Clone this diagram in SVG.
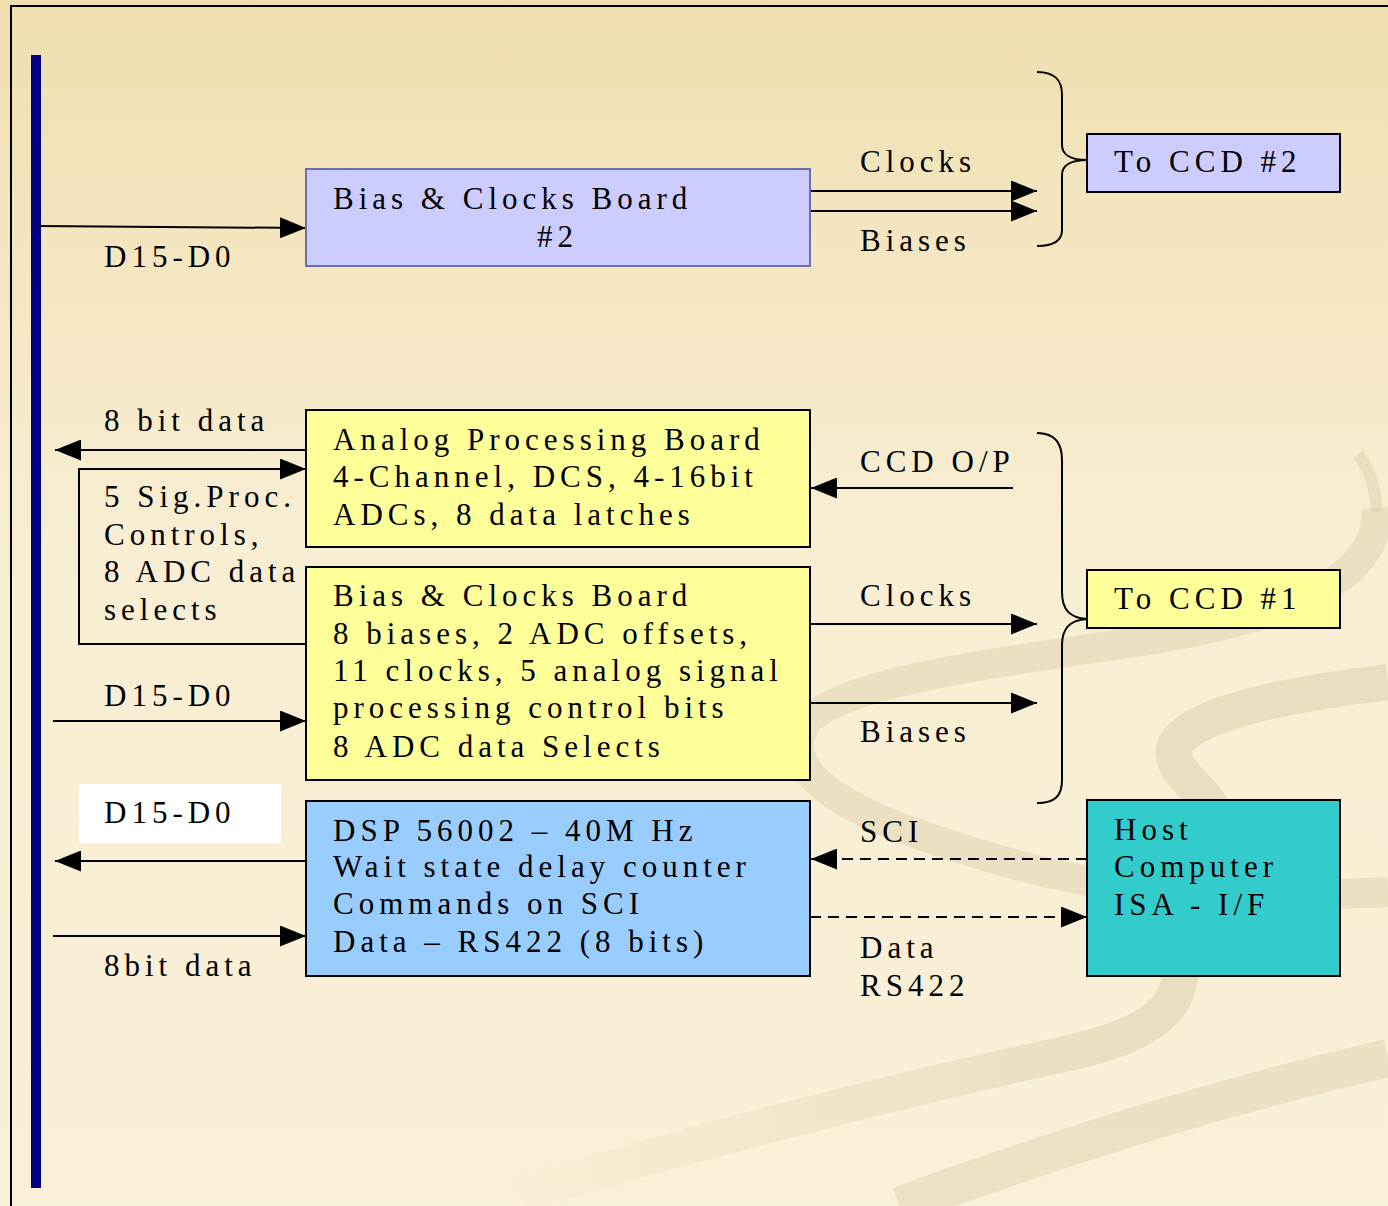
<svg xmlns="http://www.w3.org/2000/svg" width="1388" height="1206" viewBox="0 0 1388 1206">
<defs>
<linearGradient id="bg" x1="0" y1="0" x2="0" y2="1">
<stop offset="0" stop-color="#efdfb0"/>
<stop offset="0.45" stop-color="#f8eed3"/>
<stop offset="1" stop-color="#f9f0d8"/>
</linearGradient>
<linearGradient id="fade" gradientUnits="userSpaceOnUse" x1="450" y1="0" x2="1100" y2="0">
<stop offset="0" stop-color="#d6c9a4" stop-opacity="0"/>
<stop offset="1" stop-color="#d6c9a4" stop-opacity="0.45"/>
</linearGradient>
<marker id="ah" markerUnits="userSpaceOnUse" markerWidth="26" markerHeight="21" refX="26" refY="10.5" orient="auto">
<path d="M0,0 L26,10.5 L0,21 z" fill="#000"/>
</marker>
<style>
.t{font-family:"Liberation Serif",Tinos,"Times New Roman",serif;font-size:31px;letter-spacing:5px;fill:#000}
.c{stroke:#000;stroke-width:2;fill:none}
.a{marker-end:url(#ah)}
.d{stroke-dasharray:11 7}
.band{fill:none;stroke:#d6c9a4;stroke-opacity:0.38;stroke-linecap:butt}
.bandf{fill:none;stroke:url(#fade);stroke-linecap:butt}
.box{stroke:#000;stroke-width:2}
</style>
</defs>
<rect x="0" y="0" width="1388" height="1206" fill="url(#bg)"/>
<g id="background-swirls">
<path class="band" stroke-width="12" stroke-linecap="round" d="M1358,454 C1370,470 1376,488 1377,512"/>
<path class="band" stroke-width="30" d="M1377,508 C1380,575 1300,615 1150,640 C1000,662 850,680 808,720 C778,760 820,800 920,835 C1000,862 1060,880 1150,890 C1250,898 1320,895 1388,892"/>
<path class="bandf" stroke-width="36" d="M1388,682 C1280,695 1190,715 1175,745 C1165,775 1215,790 1220,830 C1225,900 1190,950 1180,977 C1175,1020 1130,1040 1060,1055 C900,1090 700,1140 520,1195"/>
<path class="band" stroke-width="38" d="M1388,1058 C1250,1090 1150,1120 1060,1150 C1000,1170 940,1190 900,1206"/>
</g>
<path d="M11,1206 L11,6 L1388,6" fill="none" stroke="#000" stroke-width="2"/>
<rect id="bus" x="31" y="55" width="10" height="1133" fill="#000080"/>

<g id="connectors">
<path class="c a" d="M37,226 L306,228"/>
<path class="c a" d="M810,191 L1037,191"/>
<path class="c a" d="M810,211 L1037,211"/>
<path class="c" d="M1037,72 C1055,72 1062,80 1062,95 L1062,145 C1062,154 1070,160 1087,160 C1070,160 1062,166 1062,175 L1062,230 C1062,240 1055,246 1037,246"/>
<path class="c a" d="M306,450 L55,450"/>
<path class="c a" d="M306,644 L79,644 L79,469 L306,469"/>
<path class="c a" d="M1013,488 L811,488"/>
<path class="c a" d="M810,624 L1037,624"/>
<path class="c a" d="M810,703 L1037,703"/>
<path class="c" d="M1037,433 C1055,433 1062,443 1062,460 L1062,592 C1062,610 1070,618 1087,619 C1070,620 1062,628 1062,645 L1062,780 C1062,796 1055,803 1037,803"/>
<path class="c a" d="M53,721 L306,721"/>
<path class="c a" d="M306,861 L55,861"/>
<path class="c a" d="M53,936 L306,936"/>
<path class="c a d" d="M1087,859 L811,859"/>
<path class="c a d" d="M810,917 L1087,917"/>
</g>

<g id="labels">
<text class="t" x="104" y="267">D15-D0</text>
<text class="t" x="860" y="172">Clocks</text>
<text class="t" x="860" y="251">Biases</text>
<text class="t" x="104" y="431">8 bit data</text>
<text class="t" x="104" y="507">5 Sig.Proc.</text>
<text class="t" x="104" y="545">Controls,</text>
<text class="t" x="104" y="582">8 ADC data</text>
<text class="t" x="104" y="620">selects</text>
<text class="t" x="860" y="472">CCD O/P</text>
<text class="t" x="860" y="606">Clocks</text>
<text class="t" x="860" y="742">Biases</text>
<text class="t" x="104" y="706">D15-D0</text>
<rect x="79" y="784" width="202" height="59" fill="#ffffff"/>
<text class="t" x="104" y="823">D15-D0</text>
<text class="t" x="104" y="976">8bit data</text>
<text class="t" x="860" y="842">SCI</text>
<text class="t" x="860" y="958">Data</text>
<text class="t" x="860" y="996">RS422</text>
</g>

<g id="bias-clocks-2">
<rect x="306" y="169" width="504" height="97" fill="#ccccff" stroke="#6f6fa8" stroke-width="2"/>
<text class="t" x="333" y="209">Bias &amp; Clocks Board</text>
<text class="t" x="537" y="247">#2</text>
</g>
<g id="to-ccd-2">
<rect class="box" x="1087" y="134" width="253" height="58" fill="#ccccff"/>
<text class="t" x="1114" y="172">To CCD #2</text>
</g>
<g id="analog-board">
<rect class="box" x="306" y="410" width="504" height="137" fill="#ffff99"/>
<text class="t" x="333" y="450">Analog Processing Board</text>
<text class="t" x="333" y="487">4-Channel, DCS, 4-16bit</text>
<text class="t" x="333" y="525">ADCs, 8 data latches</text>
</g>
<g id="bias-clocks-1">
<rect class="box" x="306" y="567" width="504" height="213" fill="#ffff99"/>
<text class="t" x="333" y="606">Bias &amp; Clocks Board</text>
<text class="t" x="333" y="644">8 biases, 2 ADC offsets,</text>
<text class="t" x="333" y="681">11 clocks, 5 analog signal</text>
<text class="t" x="333" y="718">processing control bits</text>
<text class="t" x="333" y="757">8 ADC data Selects</text>
</g>
<g id="to-ccd-1">
<rect class="box" x="1087" y="570" width="253" height="58" fill="#ffff99"/>
<text class="t" x="1114" y="609">To CCD #1</text>
</g>
<g id="dsp">
<rect class="box" x="306" y="801" width="504" height="175" fill="#99ccff"/>
<text class="t" x="333" y="841">DSP 56002 – 40M Hz</text>
<text class="t" x="333" y="877">Wait state delay counter</text>
<text class="t" x="333" y="914">Commands on SCI</text>
<text class="t" x="333" y="952">Data – RS422 (8 bits)</text>
</g>
<g id="host">
<rect class="box" x="1087" y="800" width="253" height="176" fill="#33cccc"/>
<text class="t" x="1114" y="840">Host</text>
<text class="t" x="1114" y="877">Computer</text>
<text class="t" x="1114" y="915">ISA - I/F</text>
</g>
</svg>
